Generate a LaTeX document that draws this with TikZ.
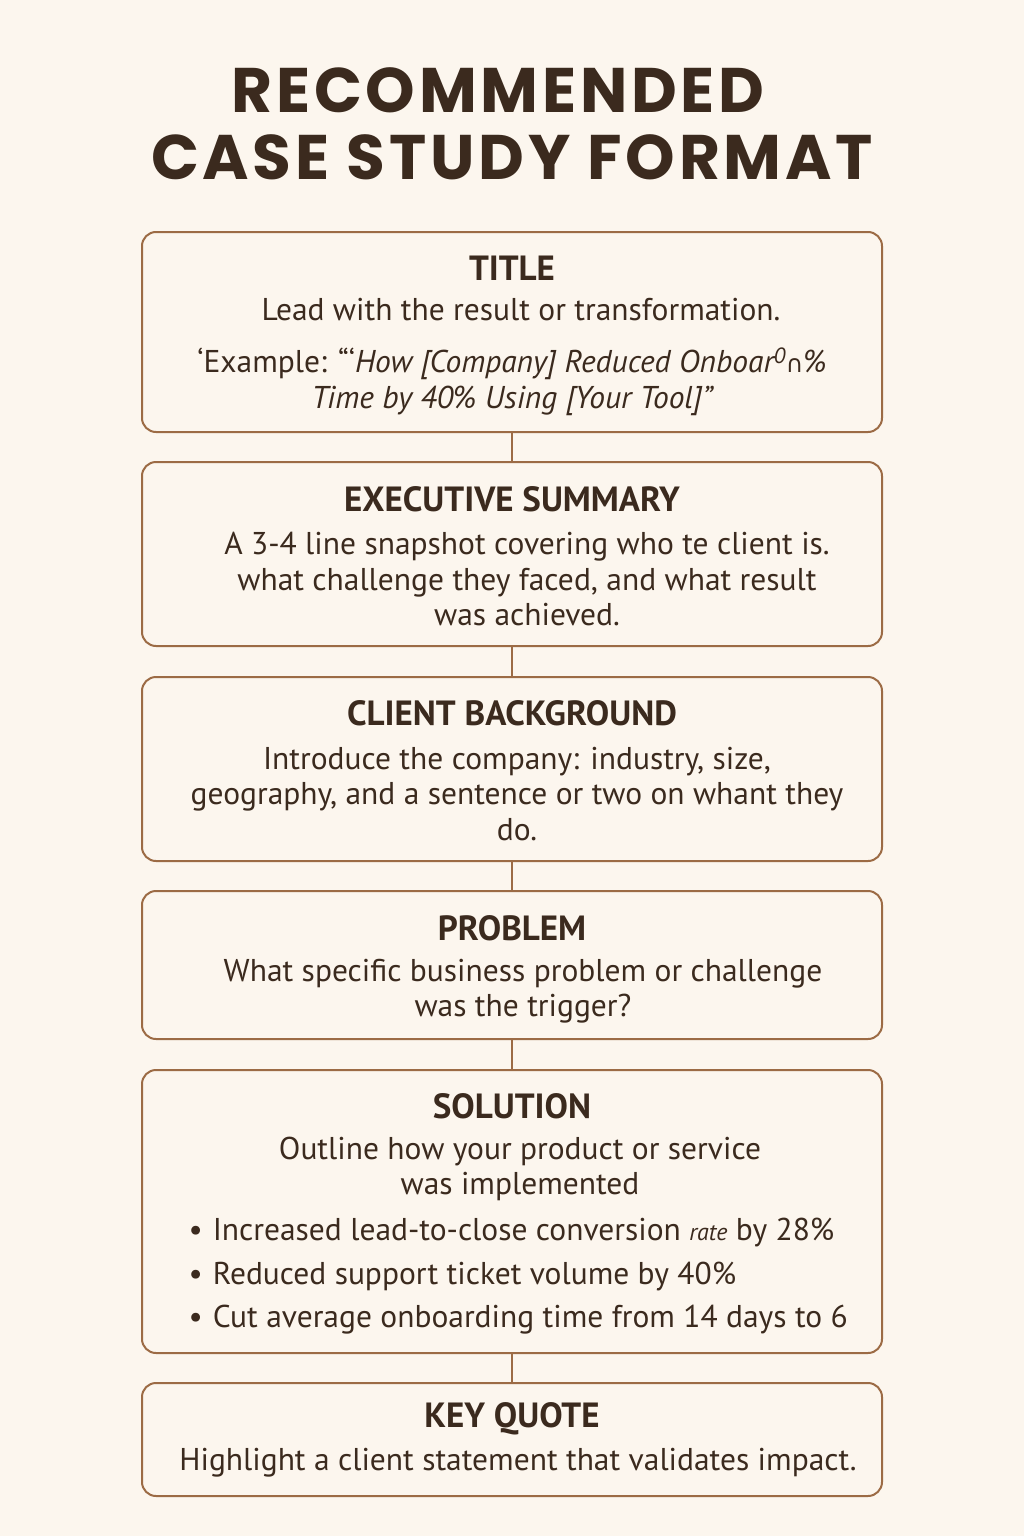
\documentclass[tikz,border=0pt]{standalone}
\usepackage{fontspec}
\setmainfont{PT Sans}
\newfontfamily\headfont{Poppins}[LetterSpace=6]
\newfontfamily\symfont{DejaVu Sans}
\definecolor{paper}{HTML}{FCF6EE}
\definecolor{ink}{HTML}{3B2A1E}
\definecolor{boxline}{HTML}{9C6B45}
\begin{document}
\begin{tikzpicture}[x=1pt,y=-1pt,
    card/.style={draw=boxline, line width=2pt, rounded corners=14pt, fill=paper, minimum width=740pt},
    head/.style={text=ink, font=\bfseries\fontsize{35}{40}\selectfont},
    body/.style={text=ink, font=\fontsize{31.5}{35.5}\selectfont, align=center},
    link/.style={draw=boxline, line width=2pt}]
  \fill[paper] (0,0) rectangle (1024,1536);

  % heading
  \node[text=ink, font=\headfont\bfseries\fontsize{63}{67}\selectfont, align=center] (maintitle) at (512,124)
    {RECOMMENDED\kern28pt\\CASE STUDY FORMAT};

  % boxes
  \node[card, minimum height=200pt] (titlebox) at (512,332) {};
  \node[card, minimum height=184pt] (execbox) at (512,554) {};
  \node[card, minimum height=184pt] (clientbox) at (512,769) {};
  \node[card, minimum height=148pt] (problembox) at (512,965) {};
  \node[card, minimum height=283pt] (solutionbox) at (512,1211.5) {};
  \node[card, minimum height=113pt] (quotebox) at (512,1439.5) {};

  \draw[link] (titlebox) -- (execbox);
  \draw[link] (execbox) -- (clientbox);
  \draw[link] (clientbox) -- (problembox);
  \draw[link] (problembox) -- (solutionbox);
  \draw[link] (solutionbox) -- (quotebox);

  % title
  \node[head] (titlehead) at (512,268) {TITLE};
  \node[body] (titletext) at (521,310) {Lead with the result or transformation.};
  \node[body] (titleexample) at (512,382)
    {‘Example: “‘\itshape How [Company] Reduced Onboar\textsuperscript{0}{\symfont\fontsize{24}{26}\selectfont ∩}\%\\
     \itshape Time by 40\% Using [Your Tool]”};

  % executive summary
  \node[head] (exechead) at (512,499) {EXECUTIVE SUMMARY};
  \node[body] (exectext) at (527,579)
    {A 3-4 line snapshot covering who te client is.\\
     what challenge they faced, and what result\\
     was achieved.};

  % client background
  \node[head] (clienthead) at (512,713) {CLIENT BACKGROUND};
  \node[body] (clienttext) at (517,794)
    {Introduce the company: industry, size,\\
     geography, and a sentence or two on whant they\\
     do.};

  % problem
  \node[head] (problemhead) at (512,928) {PROBLEM};
  \node[body] (problemtext) at (523,991)
    {What specific business problem or challenge\\
     was the trigger?};

  % solution
  \node[head] (solutionhead) at (512,1106) {SOLUTION};
  \node[body] (solutiontext) at (520,1169)
    {Outline how your product or service\\
     was implemented};
  \node[body, anchor=west] (gainone) at (185,1232)
    {\textbullet\hspace{10pt}Increased lead-to-close conversion {\itshape\fontsize{24}{25}\selectfont rate} by 28\%};
  \node[body, anchor=west] (gaintwo) at (185,1276)
    {\textbullet\hspace{10pt}Reduced support ticket volume by 40\%};
  \node[body, anchor=west] (gainthree) at (185,1320)
    {\textbullet\hspace{10pt}Cut average onboarding time from 14 days to 6};

  % key quote
  \node[head] (quotehead) at (512,1419) {KEY QUOTE};
  \node[body] (quotetext) at (518,1463) {Highlight a client statement that validates impact.};
\end{tikzpicture}
\end{document}
